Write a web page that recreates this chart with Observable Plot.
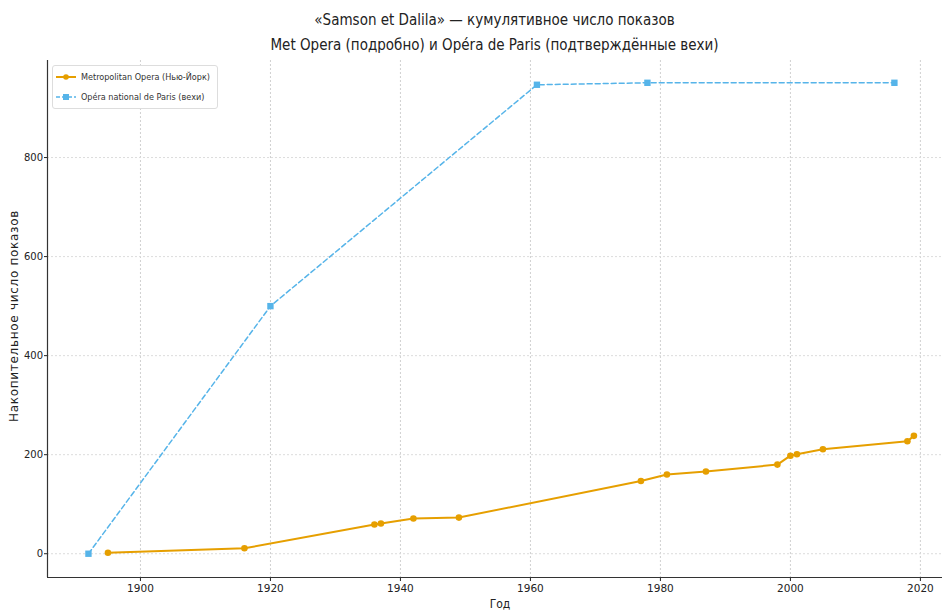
<!DOCTYPE html>
<html>
<head>
<meta charset="utf-8">
<script src="https://cdn.jsdelivr.net/npm/d3@7"></script>
<script src="https://cdn.jsdelivr.net/npm/@observablehq/plot@0.6"></script>
<style>
  body { margin: 0; background: #fff; font-family: "DejaVu Sans", sans-serif; }
  #wrap { position: relative; width: 944px; height: 612px; overflow: hidden; }
  #title { position: absolute; left: 47px; width: 895px; top: 8px; text-align: center; font-size: 15px; line-height: 25px; color: #222; font-stretch: condensed; }
  #chart { position: absolute; left: 0; top: 60px; }
  #ylab { position: absolute; left: 14px; top: 316px; transform: translate(-50%, -50%) rotate(-90deg); font-size: 12px; white-space: nowrap; color: #222; letter-spacing: 0.7px; }
  #xlab { position: absolute; left: 500px; top: 597px; transform: translateX(-50%); font-size: 12px; color: #222; font-stretch: condensed; }
  #legend { position: absolute; left: 52px; top: 65px; width: 164px; height: 42px; border: 1px solid #ddd; border-radius: 3px; background: #fff; font-size: 9px; color: #333; font-stretch: condensed; }
  .row { position: absolute; left: 3px; height: 14px; display: flex; align-items: center; white-space: nowrap; }
  .row svg { margin-right: 5px; }
</style>
</head>
<body>
<div id="wrap">
  <div id="title">«Samson et Dalila» — кумулятивное число показов<br>Met Opera (подробно) и Opéra de Paris (подтверждённые вехи)</div>
  <div id="chart"></div>
  <div id="ylab">Накопительное число показов</div>
  <div id="xlab">Год</div>
  <div id="legend"></div>
</div>
<script>
const metYears = [1895, 1916, 1936, 1937, 1942, 1949, 1977, 1981, 1987, 1998, 2000, 2001, 2005, 2018, 2019];
const metValues = [2, 11, 59, 61, 71, 73, 147, 160, 166, 180, 198, 201, 211, 227, 238];
const parisYears = [1892, 1920, 1961, 1978, 2016];
const parisValues = [0, 500, 947, 951, 951];
const xTicks = [1900, 1920, 1940, 1960, 1980, 2000, 2020];
const yTicks = [0, 200, 400, 600, 800];
const seriesNames = ["Metropolitan Opera (Нью-Йорк)", "Opéra national de Paris (вехи)"];
const colors = ["#E69F00", "#56B4E9"];

const met = metYears.map((y, i) => ({year: y, value: metValues[i]}));
const paris = parisYears.map((y, i) => ({year: y, value: parisValues[i]}));
const xDomain = [1885.7, 2023.4];
const yDomain = [-48, 996];

const chart = Plot.plot({
  width: 944,
  height: 552,
  marginTop: 0,
  marginBottom: 35,
  marginLeft: 47,
  marginRight: 2,
  style: {fontFamily: "DejaVu Sans, sans-serif", fontSize: "11px", color: "#222", background: "transparent"},
  x: {domain: xDomain, label: null},
  y: {domain: yDomain, label: null},
  marks: [
    Plot.gridX(xTicks, {stroke: "#d0d0d0", strokeOpacity: 1, strokeDasharray: "2,2"}),
    Plot.gridY(yTicks, {stroke: "#dcdcdc", strokeOpacity: 1, strokeDasharray: "2,2"}),
    Plot.axisX(xTicks, {tickFormat: d => String(d), tickSize: 4, tickPadding: 3, fontSize: 10.5, label: null}),
    Plot.axisY(yTicks, {tickFormat: d => String(d), tickSize: 3, tickPadding: 1.5, fontSize: 10, label: null}),
    Plot.ruleX([xDomain[0]], {stroke: "#333", strokeWidth: 1.2}),
    Plot.ruleY([yDomain[0]], {stroke: "#333", strokeWidth: 1.2}),
    Plot.line(paris, {x: "year", y: "value", stroke: colors[1], strokeWidth: 1.5, strokeDasharray: "5,3"}),
    Plot.dot(paris, {x: "year", y: "value", symbol: "square", fill: colors[1], r: 3.6}),
    Plot.line(met, {x: "year", y: "value", stroke: colors[0], strokeWidth: 2}),
    Plot.dot(met, {x: "year", y: "value", symbol: "circle", fill: colors[0], r: 3.3})
  ]
});
document.getElementById("chart").appendChild(chart);

const legend = document.getElementById("legend");
seriesNames.forEach((name, i) => {
  const row = document.createElement("div");
  row.className = "row";
  row.style.top = (i === 0 ? 4 : 24) + "px";
  const ns = "http://www.w3.org/2000/svg";
  const s = document.createElementNS(ns, "svg");
  s.setAttribute("width", 20); s.setAttribute("height", 10);
  const l = document.createElementNS(ns, "line");
  l.setAttribute("x1", 0); l.setAttribute("x2", 20); l.setAttribute("y1", 5); l.setAttribute("y2", 5);
  l.setAttribute("stroke", colors[i]); l.setAttribute("stroke-width", i === 0 ? 2 : 1.5);
  if (i === 1) l.setAttribute("stroke-dasharray", "4,2");
  s.appendChild(l);
  if (i === 0) {
    const c = document.createElementNS(ns, "circle");
    c.setAttribute("cx", 10); c.setAttribute("cy", 5); c.setAttribute("r", 2.8); c.setAttribute("fill", colors[0]);
    s.appendChild(c);
  } else {
    const r = document.createElementNS(ns, "rect");
    r.setAttribute("x", 7); r.setAttribute("y", 2); r.setAttribute("width", 6); r.setAttribute("height", 6); r.setAttribute("fill", colors[1]);
    s.appendChild(r);
  }
  row.appendChild(s);
  const t = document.createElement("span");
  t.textContent = name;
  row.appendChild(t);
  legend.appendChild(row);
});
</script>
</body>
</html>
